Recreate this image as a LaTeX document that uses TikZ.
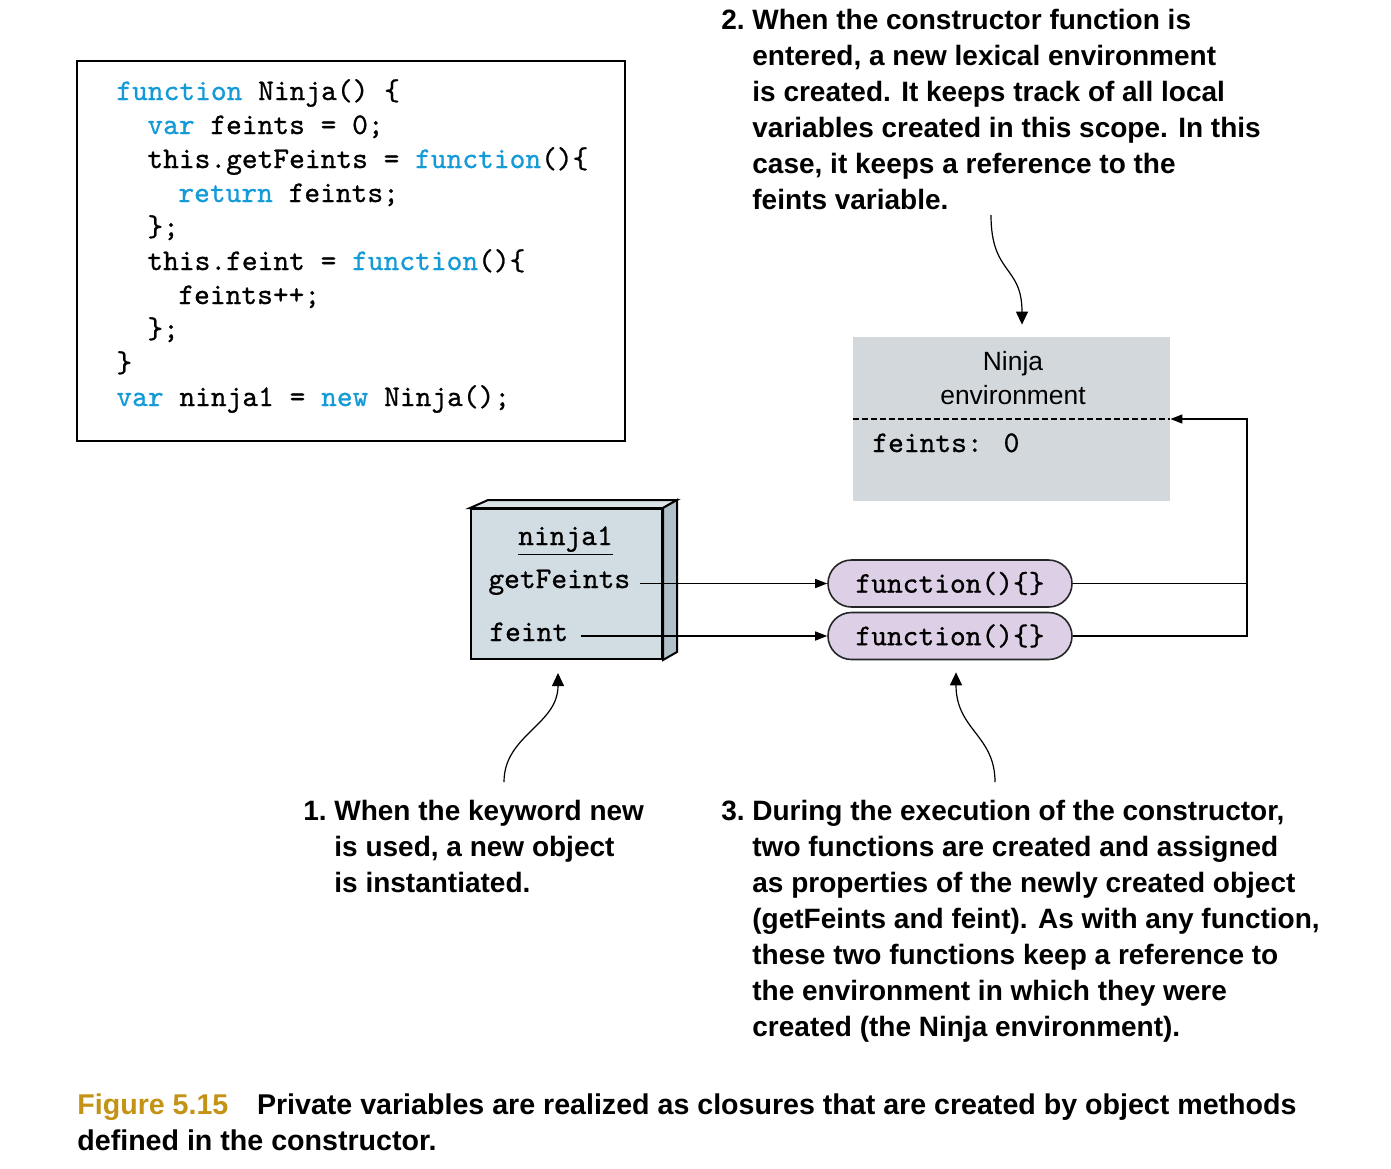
\documentclass[tikz,border=0pt]{standalone}
\usepackage{fontspec}
\setmainfont{Liberation Sans}
\newfontfamily\notefont{Liberation Sans}
\newfontfamily\capfont{Liberation Sans}
\newfontfamily\codefont{lmmono10-regular.otf}[FakeBold=0.8]
\usetikzlibrary{arrows.meta,calc,shapes.misc,positioning}
\definecolor{kwblue}{RGB}{20,155,215}
\definecolor{envgray}{RGB}{211,216,221}
\definecolor{objfront}{RGB}{210,221,227}
\definecolor{objtop}{RGB}{218,227,232}
\definecolor{objside}{RGB}{176,192,201}
\definecolor{pillpink}{RGB}{221,207,229}
\definecolor{figgold}{RGB}{196,146,20}
\newcommand{\kw}[1]{\textcolor{kwblue}{#1}}
\tikzset{
	code/.style={anchor=base west, inner sep=0pt, font=\fontsize{15}{17}\codefont},
	note/.style={anchor=north west, inner sep=0pt, align=left, font=\fontsize{14}{18}\notefont\bfseries},
	link/.style={line width=0.7pt, -{Triangle[length=6pt,width=4.5pt]}},
	curvy/.style={line width=0.6pt, -{Triangle[length=6.5pt,width=6pt]}},
	pill/.style={rounded rectangle, draw=black!85, line width=0.8pt, fill=pillpink, minimum width=122pt, minimum height=23.5pt, inner sep=0pt, font=\fontsize{15}{17}\codefont},
}

\begin{document}
\begin{tikzpicture}[x=0.5pt,y=-0.5pt]
		%%%%% START %%%%%
		\useasboundingbox (0,0) rectangle (1391,1168);
		
		% code listing
		\draw[line width=1pt] (77,61) rectangle (625,441);
		\node[code] (c1) at (116,100) {\kw{function} Ninja() \{};
		\node[code] (c2) at (147,134) {\kw{var} feints = 0;};
		\node[code] (c3) at (147,168) {this.getFeints = \kw{function}()\{};
		\node[code] (c4) at (178,202) {\kw{return} feints;};
		\node[code] (c5) at (147,236) {\};};
		\node[code] (c6) at (147,270) {this.feint = \kw{function}()\{};
		\node[code] (c7) at (178,304) {feints++;};
		\node[code] (c8) at (147,338) {\};};
		\node[code] (c9) at (116,372) {\}};
		\node[code] (c10) at (116,406) {\kw{var} ninja1 = \kw{new} Ninja();};
		
		% environment
		\node[fill=envgray, minimum width=158.5pt, minimum height=82pt, inner sep=0pt] (env) at (1011.5,419) {};
		\node[align=center, font=\fontsize{13.2}{17}\selectfont] (envname) at (1013,378) {Ninja\\environment};
		\draw[dashed, dash pattern=on 3pt off 1.5pt, line width=0.7pt] (env.west) -- (env.east);
		\node[code] (envvar) at (872,452) {feints: 0};
		
		% object ninja1
		\node[fill=objfront, draw, line width=1pt, minimum width=95.5pt, minimum height=75pt, inner sep=0pt] (obj) at (566.5,584) {};
		\draw[fill=objtop, line width=1pt] (obj.north west) -- ++(18,-8) -- ($(obj.north east)+(14,-8)$) -- (obj.north east) -- cycle;
		\draw[fill=objside, line width=1pt] (obj.north east) -- ++(14,-8) -- ($(obj.south east)+(14,-8)$) -- (obj.south east) -- cycle;
		\node[code, anchor=base] (objname) at (565.5,545) {\underline{ninja1}};
		\node[code] (getf) at (488,588) {getFeints};
		\node[code] (feint) at (489,641) {feint};
		
		% closures
		\node[pill] (fn1) at (950,583.5) {function()\{\}};
		\node[pill] (fn2) at (950,636) {function()\{\}};
		\draw[link] ($(getf.east |- fn1.west)+(9,0)$) -- (fn1.west);
		\draw[link] ($(feint.east |- fn2.west)+(12,0)$) -- (fn2.west);
		
		\coordinate (rail) at (1247,419);
		\draw[line width=0.7pt] (fn1.east) -- (fn1.east -| rail);
		\draw[link] (fn2.east) -| (rail) -- (env.east);
		
		% notes
		\node[note] (note2) at (752,9) {\llap{2.\ }When the constructor function is\\entered, a new lexical environment\\is created. It keeps track of all local\\variables created in this scope. In this\\case, it keeps a reference to the\\feints variable.};
		\node[note] (note1) at (334,800) {\llap{1.\ }When the keyword new\\is used, a new object\\is instantiated.};
		\node[note] (note3) at (752,800) {\llap{3.\ }During the execution of the constructor,\\two functions are created and assigned\\as properties of the newly created object\\(getFeints and feint). As with any function,\\these two functions keep a reference to\\the environment in which they were\\created (the Ninja environment).};
		
		\coordinate (from2) at (991,215);
		\coordinate (from1) at (504,782);
		\coordinate (from3) at (995,782);
		\draw[curvy] (from2) .. controls (991,275) and (1022,265) .. ($(env.north)+(10.5,-12)$);
		\draw[curvy] (from1) .. controls (504,735) and (558,725) .. ($(obj.south)+(-8.5,13)$);
		\draw[curvy] (from3) .. controls (995,735) and (956,730) .. ($(fn2.south)+(6,12)$);
		
		% caption
		\node[anchor=north west, inner sep=0pt, align=left, font=\fontsize{14.3}{18}\capfont\bfseries] (caption) at (77,1093) {\textcolor{figgold}{Figure 5.15}\hspace{1em}Private variables are realized as closures that are created by object methods\\defined in the constructor.};
		
		%%%%% END %%%%%
\end{tikzpicture}
\end{document}
